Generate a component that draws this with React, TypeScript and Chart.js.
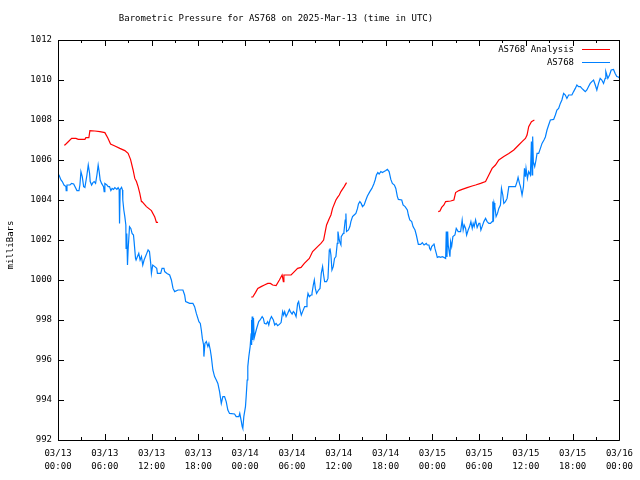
import React, { useEffect, useRef } from "react";
import { Chart, registerables } from "chart.js";

Chart.register(...registerables);

const TITLE = "Barometric Pressure for AS768 on 2025-Mar-13 (time in UTC)";
const Y_LABEL = "milliBars";
const LEGEND_ANALYSIS = "AS768 Analysis";
const LEGEND_OBS = "AS768";

const xTickDates = ["03/13", "03/13", "03/13", "03/13", "03/14", "03/14", "03/14", "03/14", "03/15", "03/15", "03/15", "03/15", "03/16"];
const xTickTimes = ["00:00", "06:00", "12:00", "18:00", "00:00", "06:00", "12:00", "18:00", "00:00", "06:00", "12:00", "18:00", "00:00"];
const X_MIN = 0, X_MAX = 72, X_STEP = 6, X_MINOR = 3; // hours since 03/13 00:00 UTC
const Y_MIN = 992, Y_MAX = 1012, Y_STEP = 2;

// [hours since 03/13 00:00, millibars]
const observed: [number, number][] = [
  [0.0, 1005.25], [0.13, 1005.25], [0.38, 1005.0], [0.55, 1004.92], [0.77, 1004.75], [1.02, 1004.67], [1.05, 1004.47], [1.15, 1004.75],
  [1.53, 1004.75], [1.75, 1004.83], [2.01, 1004.8], [2.17, 1004.67], [2.43, 1004.47], [2.69, 1004.47], [2.81, 1004.75], [2.94, 1005.42],
  [3.11, 1005.17], [3.29, 1004.67], [3.45, 1004.63], [3.71, 1005.25], [3.88, 1005.75], [4.05, 1005.33], [4.13, 1004.92], [4.31, 1004.75],
  [4.48, 1004.87], [4.64, 1004.92], [4.82, 1004.83], [4.99, 1005.25], [5.15, 1005.75], [5.28, 1005.42], [5.41, 1005.0], [5.59, 1004.83],
  [5.84, 1004.67], [5.92, 1004.42], [6.01, 1004.83], [6.27, 1004.75], [6.43, 1004.67], [6.61, 1004.67], [6.78, 1004.47], [6.94, 1004.58],
  [7.12, 1004.53], [7.29, 1004.62], [7.55, 1004.53], [7.71, 1004.62], [7.84, 1004.53], [7.89, 1002.83], [7.97, 1004.53], [8.15, 1004.63],
  [8.27, 1004.5], [8.31, 1004.0], [8.44, 1003.5], [8.57, 1003.17], [8.7, 1002.75], [8.73, 1001.58], [8.82, 1002.33], [8.91, 1000.75],
  [8.99, 1001.5], [9.17, 1002.67], [9.34, 1002.58], [9.5, 1002.33], [9.68, 1002.25], [9.76, 1001.92], [9.94, 1001.08], [10.01, 1001.0],
  [10.19, 1001.17], [10.36, 1001.33], [10.53, 1001.0], [10.7, 1001.17], [10.87, 1000.75], [11.04, 1001.0], [11.22, 1001.17], [11.38, 1001.33],
  [11.55, 1001.5], [11.73, 1001.42], [11.89, 1000.83], [11.98, 1000.33], [12.15, 1000.75], [12.41, 1000.67], [12.66, 1000.58], [12.75, 1000.33],
  [13.17, 1000.33], [13.34, 1000.58], [13.59, 1000.58], [13.68, 1000.42], [13.98, 1000.33], [14.32, 1000.25], [14.54, 1000.0], [14.75, 999.58],
  [14.96, 999.42], [15.39, 999.5], [16.02, 999.5], [16.24, 999.25], [16.37, 998.92], [16.88, 998.83], [17.3, 998.83], [17.52, 998.67],
  [17.74, 998.33], [18.07, 997.92], [18.25, 997.83], [18.38, 997.5], [18.51, 997.08], [18.67, 996.75], [18.71, 996.17], [18.84, 996.83],
  [19.02, 996.92], [19.22, 996.67], [19.35, 996.83], [19.53, 996.5], [19.66, 996.17], [19.86, 995.5], [20.08, 995.17], [20.3, 995.0],
  [20.5, 994.83], [20.72, 994.42], [20.94, 993.83], [21.14, 994.17], [21.36, 994.17], [21.57, 993.92], [21.78, 993.5], [22.0, 993.33],
  [22.64, 993.3], [22.85, 993.17], [23.19, 993.17], [23.31, 993.33], [23.49, 992.97], [23.62, 992.67], [23.7, 992.58], [23.83, 993.17],
  [24.04, 993.67], [24.13, 994.17], [24.26, 995.0], [24.34, 995.67], [24.47, 996.17], [24.64, 996.67], [24.77, 997.33], [24.81, 998.0],
  [24.85, 996.75], [24.9, 998.17], [24.98, 997.0], [25.07, 998.1], [25.16, 997.1], [25.32, 997.35], [25.49, 997.6], [25.74, 997.92],
  [25.92, 998.0], [26.18, 998.17], [26.34, 998.08], [26.47, 997.83], [26.69, 997.8], [26.89, 997.92], [27.03, 997.75], [27.2, 998.03],
  [27.37, 998.17], [27.62, 998.0], [27.79, 997.75], [27.97, 997.83], [28.17, 997.72], [28.39, 997.78], [28.61, 997.87], [28.81, 998.42],
  [28.94, 998.25], [29.07, 998.42], [29.25, 998.17], [29.45, 998.33], [29.67, 998.53], [29.8, 998.42], [30.02, 998.3], [30.18, 998.42],
  [30.31, 998.37], [30.53, 998.17], [30.73, 998.83], [30.86, 998.92], [31.04, 998.5], [31.2, 998.25], [31.37, 998.42], [31.63, 998.67],
  [31.81, 998.67], [31.93, 999.0], [32.06, 999.33], [32.23, 999.17], [32.45, 999.25], [32.57, 999.33], [32.74, 999.75], [32.87, 1000.0],
  [33.0, 999.58], [33.16, 999.33], [33.42, 999.5], [33.6, 999.58], [33.76, 1000.33], [33.93, 1000.67], [34.06, 1000.25], [34.19, 999.92],
  [34.44, 999.92], [34.62, 1000.08], [34.79, 1001.5], [34.88, 1001.58], [35.0, 1001.25], [35.13, 1000.5], [35.3, 1000.67], [35.46, 1001.08],
  [35.64, 1001.17], [35.81, 1001.83], [35.9, 1002.42], [36.07, 1002.0], [36.19, 1001.83], [36.28, 1001.75], [36.32, 1002.17], [36.58, 1002.33],
  [36.67, 1002.42], [36.83, 1003.0], [36.92, 1003.33], [37.0, 1002.42], [37.25, 1002.5], [37.43, 1002.67], [37.56, 1002.92], [37.77, 1003.17],
  [37.98, 1003.25], [38.2, 1003.33], [38.41, 1003.58], [38.53, 1003.8], [38.71, 1003.92], [38.88, 1003.83], [39.05, 1003.67], [39.26, 1003.75],
  [39.48, 1004.0], [39.68, 1004.2], [39.99, 1004.42], [40.25, 1004.58], [40.5, 1004.8], [40.67, 1005.0], [40.83, 1005.25], [41.01, 1005.37],
  [41.18, 1005.3], [41.4, 1005.42], [41.6, 1005.37], [41.82, 1005.42], [42.04, 1005.47], [42.24, 1005.53], [42.46, 1005.42], [42.68, 1005.03],
  [42.88, 1004.83], [43.14, 1004.75], [43.32, 1004.58], [43.52, 1004.17], [43.65, 1004.03], [44.08, 1004.0], [44.25, 1003.75], [44.51, 1003.67],
  [44.8, 1003.5], [44.93, 1003.25], [45.11, 1003.0], [45.36, 1002.92], [45.53, 1002.67], [45.78, 1002.5], [45.95, 1002.25], [46.21, 1001.78],
  [46.51, 1001.78], [46.72, 1001.87], [46.94, 1001.75], [47.23, 1001.83], [47.36, 1001.75], [47.57, 1001.75], [47.66, 1001.58], [47.79, 1001.5],
  [47.92, 1001.67], [48.09, 1001.75], [48.21, 1001.83], [48.34, 1001.58], [48.51, 1001.33], [48.64, 1001.13], [48.85, 1001.17], [49.07, 1001.13],
  [49.28, 1001.17], [49.49, 1001.13], [49.71, 1001.08], [49.79, 1002.42], [49.88, 1001.15], [49.97, 1002.42], [50.04, 1001.75], [50.26, 1001.17],
  [50.35, 1001.92], [50.48, 1001.67], [50.64, 1002.17], [50.9, 1002.25], [51.07, 1002.58], [51.32, 1002.42], [51.63, 1002.42], [51.83, 1003.0],
  [51.96, 1002.5], [52.09, 1002.75], [52.27, 1002.58], [52.4, 1002.25], [52.6, 1002.5], [52.78, 1002.67], [52.95, 1002.92], [53.12, 1002.58],
  [53.24, 1002.83], [53.37, 1002.67], [53.55, 1003.0], [53.75, 1002.63], [53.97, 1002.83], [54.1, 1002.83], [54.23, 1002.5], [54.39, 1002.67],
  [54.61, 1002.92], [54.83, 1003.08], [55.03, 1002.92], [55.25, 1002.83], [55.46, 1002.83], [55.67, 1002.92], [55.76, 1003.92], [55.84, 1002.92],
  [55.92, 1003.85], [56.02, 1003.67], [56.18, 1003.17], [56.36, 1003.33], [56.53, 1003.58], [56.74, 1003.75], [56.87, 1004.58], [57.04, 1004.25],
  [57.17, 1003.83], [57.38, 1003.92], [57.59, 1004.08], [57.81, 1004.67], [58.02, 1004.67], [58.45, 1004.67], [58.66, 1004.67], [58.87, 1004.92],
  [59.0, 1005.13], [59.18, 1004.83], [59.31, 1004.67], [59.51, 1004.25], [59.69, 1004.67], [59.82, 1005.58], [59.94, 1005.17], [60.02, 1005.58],
  [60.2, 1005.08], [60.36, 1005.42], [60.58, 1005.25], [60.71, 1006.92], [60.79, 1005.25], [60.87, 1007.17], [60.96, 1005.9], [61.13, 1005.67],
  [61.3, 1006.0], [61.43, 1006.33], [61.64, 1006.33], [61.86, 1006.58], [62.07, 1006.83], [62.32, 1007.0], [62.5, 1007.15], [62.71, 1007.5],
  [62.92, 1007.75], [63.14, 1008.0], [63.56, 1008.03], [63.78, 1008.25], [63.98, 1008.5], [64.2, 1008.58], [64.42, 1008.83], [64.62, 1009.0],
  [64.84, 1009.33], [65.06, 1009.25], [65.26, 1009.08], [65.48, 1009.25], [65.9, 1009.25], [66.12, 1009.42], [66.34, 1009.58], [66.54, 1009.75],
  [66.76, 1009.67], [66.98, 1009.67], [67.18, 1009.58], [67.4, 1009.5], [67.62, 1009.42], [67.82, 1009.5], [68.04, 1009.67], [68.25, 1009.83],
  [68.46, 1009.92], [68.68, 1010.0], [68.9, 1009.75], [69.1, 1009.5], [69.32, 1009.83], [69.53, 1010.08], [69.74, 1010.0], [69.96, 1009.83],
  [70.17, 1010.08], [70.25, 1010.42], [70.38, 1010.25], [70.51, 1010.08], [70.73, 1010.25], [70.94, 1010.5], [71.24, 1010.53], [71.45, 1010.33],
  [71.66, 1010.17], [71.87, 1010.15], [72.0, 1010.1],
];

const analysisRun1: [number, number][] = [
  [0.77, 1006.75], [0.9, 1006.75], [1.28, 1006.9], [1.75, 1007.08], [2.3, 1007.08], [2.6, 1007.03], [3.45, 1007.03], [3.58, 1007.12],
  [3.96, 1007.12], [4.09, 1007.47], [4.73, 1007.45], [5.37, 1007.42], [6.01, 1007.37], [6.39, 1007.1], [6.74, 1006.8], [7.29, 1006.7],
  [7.93, 1006.58], [8.57, 1006.47], [8.99, 1006.33], [9.3, 1006.03], [9.63, 1005.5], [9.85, 1005.08], [10.06, 1004.92], [10.27, 1004.67],
  [10.49, 1004.33], [10.7, 1003.92], [10.78, 1003.92], [11.34, 1003.67], [11.98, 1003.47], [12.41, 1003.15], [12.62, 1002.88], [12.83, 1002.88],
];
const analysisRun2: [number, number][] = [
  [24.77, 999.15], [24.98, 999.15], [25.32, 999.37], [25.62, 999.58], [26.05, 999.67], [26.47, 999.75], [26.9, 999.83], [27.24, 999.83],
  [27.53, 999.75], [27.97, 999.72], [28.39, 1000.0], [28.74, 1000.25], [28.9, 999.92], [28.97, 1000.25], [29.89, 1000.25], [30.31, 1000.42],
  [30.73, 1000.58], [31.17, 1000.63], [31.59, 1000.83], [32.23, 1001.08], [32.65, 1001.42], [33.29, 1001.67], [33.72, 1001.83], [34.06, 1002.0],
  [34.27, 1002.42], [34.44, 1002.75], [34.79, 1003.08], [35.0, 1003.25], [35.21, 1003.58], [35.64, 1004.0], [35.85, 1004.13], [36.07, 1004.25],
  [36.28, 1004.42], [36.7, 1004.67], [37.0, 1004.87],
];
const analysisRun3: [number, number][] = [
  [48.76, 1003.42], [48.98, 1003.45], [49.2, 1003.63], [49.49, 1003.75], [49.71, 1003.92], [50.35, 1003.95], [50.77, 1004.0], [50.99, 1004.37],
  [51.41, 1004.47], [51.83, 1004.53], [52.47, 1004.62], [53.11, 1004.7], [53.55, 1004.75], [54.19, 1004.83], [54.83, 1004.92], [55.25, 1005.25],
  [55.67, 1005.58], [56.1, 1005.75], [56.53, 1006.0], [57.17, 1006.17], [57.81, 1006.33], [58.45, 1006.5], [59.08, 1006.75], [59.51, 1006.92],
  [59.94, 1007.08], [60.15, 1007.25], [60.36, 1007.67], [60.71, 1007.92], [61.09, 1008.0],
];

const RED = "#ff0000";
const BLUE = "#0080ff";
const FONT = "'DejaVu Sans Mono', 'Liberation Mono', monospace";
const FONT_SIZE = 9;

function toPoints(rows: [number, number][]) {
  return rows.map(([x, y]) => ({ x, y }));
}

function joinRuns(runs: [number, number][][]) {
  const out: { x: number; y: number | null }[] = [];
  runs.forEach((run, i) => {
    if (i > 0) out.push({ x: (runs[i - 1][runs[i - 1].length - 1][0] + run[0][0]) / 2, y: null });
    run.forEach(([x, y]) => out.push({ x, y }));
  });
  return out;
}

const framePlugin = {
  id: "gnuplotFrame",
  afterDraw(chart: any) {
    const { ctx, chartArea, scales } = chart;
    const xs = scales.x;
    const ys = scales.y;
    const L = chartArea.left, R = chartArea.right, T = chartArea.top, B = chartArea.bottom;
    ctx.save();
    ctx.strokeStyle = "#000";
    ctx.lineWidth = 1;
    ctx.beginPath();
    ctx.rect(Math.round(L) + 0.5, Math.round(T) + 0.5, Math.round(R - L), Math.round(B - T));
    ctx.stroke();
    ctx.beginPath();
    for (let v = Y_MIN; v <= Y_MAX; v += Y_STEP) {
      const py = Math.round(ys.getPixelForValue(v)) + 0.5;
      ctx.moveTo(L, py); ctx.lineTo(L + 6, py);
      ctx.moveTo(R, py); ctx.lineTo(R - 6, py);
    }
    for (let h = X_MIN; h <= X_MAX; h += X_MINOR) {
      const px = Math.round(xs.getPixelForValue(h)) + 0.5;
      const len = h % X_STEP === 0 ? 6 : 3;
      ctx.moveTo(px, B); ctx.lineTo(px, B - len);
      ctx.moveTo(px, T); ctx.lineTo(px, T + len);
    }
    ctx.stroke();

    ctx.fillStyle = "#000";
    ctx.font = `${FONT_SIZE}px ${FONT}`;
    ctx.textBaseline = "middle";
    ctx.textAlign = "center";
    ctx.fillText(TITLE, 276, 19);

    ctx.save();
    ctx.translate(11, 245);
    ctx.rotate(-Math.PI / 2);
    ctx.fillText(Y_LABEL, 0, 0);
    ctx.restore();

    ctx.textAlign = "right";
    ctx.fillText(LEGEND_ANALYSIS, 574, 50);
    ctx.fillText(LEGEND_OBS, 574, 63);
    ctx.beginPath();
    ctx.strokeStyle = RED;
    ctx.moveTo(582, 49.5); ctx.lineTo(610, 49.5);
    ctx.stroke();
    ctx.beginPath();
    ctx.strokeStyle = BLUE;
    ctx.moveTo(582, 62.5); ctx.lineTo(610, 62.5);
    ctx.stroke();
    ctx.restore();
  },
};

export default function App() {
  const ref = useRef<HTMLCanvasElement>(null);
  useEffect(() => {
    if (!ref.current) return;
    const chart = new Chart(ref.current, {
      type: "line",
      data: {
        datasets: [
          {
            label: LEGEND_ANALYSIS,
            data: joinRuns([analysisRun1, analysisRun2, analysisRun3]) as any,
            borderColor: RED,
            borderWidth: 1.2,
            pointRadius: 0,
            tension: 0,
            spanGaps: false,
          },
          {
            label: LEGEND_OBS,
            data: toPoints(observed) as any,
            borderColor: BLUE,
            borderWidth: 1.2,
            pointRadius: 0,
            tension: 0,
          },
        ],
      },
      options: {
        animation: false,
        responsive: false,
        devicePixelRatio: 1,
        layout: { padding: { top: 40, right: 19, left: 0, bottom: 0 } },
        plugins: { legend: { display: false }, title: { display: false }, tooltip: { enabled: false } },
        scales: {
          x: {
            type: "linear",
            min: X_MIN,
            max: X_MAX,
            grid: { display: false, drawTicks: false },
            border: { display: false },
            afterFit: (s: any) => { s.height = 40; },
            afterBuildTicks: (s: any) => {
              const t = [];
              for (let v = X_MIN; v <= X_MAX; v += X_STEP) t.push({ value: v });
              s.ticks = t;
            },
            ticks: {
              autoSkip: false,
              maxRotation: 0,
              padding: 7,
              color: "#000",
              font: { family: FONT, size: FONT_SIZE, lineHeight: 13 / FONT_SIZE },
              callback: (_v: any, i: number) => [xTickDates[i], xTickTimes[i]],
            },
          },
          y: {
            type: "linear",
            min: Y_MIN,
            max: Y_MAX,
            grid: { display: false, drawTicks: false },
            border: { display: false },
            afterFit: (s: any) => { s.width = 58; },
            ticks: {
              stepSize: Y_STEP,
              padding: 6,
              color: "#000",
              font: { family: FONT, size: FONT_SIZE },
              callback: (v: any) => String(v),
            },
          },
        },
      },
      plugins: [framePlugin],
    });
    return () => chart.destroy();
  }, []);
  return (
    <div style={{ position: "absolute", left: 0, top: 0, width: 640, height: 480, background: "#fff" }}>
      <canvas ref={ref} width={640} height={480} style={{ display: "block" }} />
    </div>
  );
}
